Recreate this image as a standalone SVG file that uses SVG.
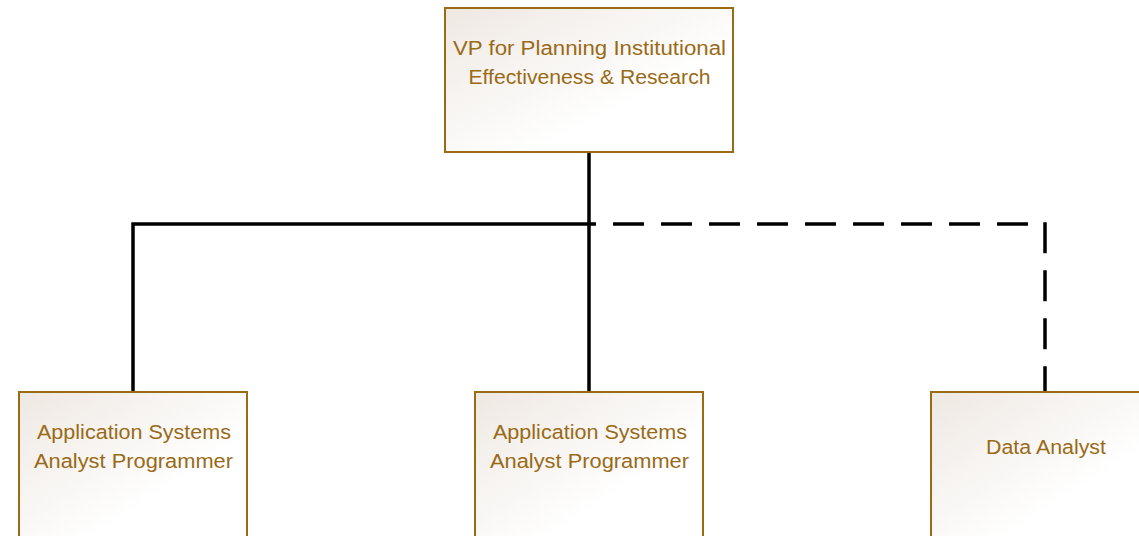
<svg xmlns="http://www.w3.org/2000/svg" width="1139" height="536" viewBox="0 0 1139 536">
<defs>
<linearGradient id="g" x1="0" y1="0" x2="1" y2="1">
<stop offset="0" stop-color="#eee8e2"/>
<stop offset="0.65" stop-color="#ffffff"/>
<stop offset="1" stop-color="#ffffff"/>
</linearGradient>
<style>
.box{fill:url(#g);stroke:#9c6a12;stroke-width:2}
.t{font-family:"Liberation Sans",Arial,sans-serif;font-size:20px;fill:#9a6a16;text-anchor:middle}
.solid{fill:none;stroke:#000;stroke-width:3.5}
.dash{fill:none;stroke:#000;stroke-width:3.5;stroke-dasharray:31 17}
</style>
</defs>
<rect width="1139" height="536" fill="#fff"/>
<g id="connectors">
<path class="solid" d="M589 152 V392"/>
<path class="solid" d="M589 224 H133 V392"/>
<path class="dash" d="M1028 224 H589"/>
<path class="dash" d="M1045 222.3 V392"/>
</g>
<g id="vp">
<rect class="box" x="445" y="8" width="288" height="144"/>
<text class="t" x="589.5" y="55" textLength="273" lengthAdjust="spacingAndGlyphs">VP for Planning Institutional</text>
<text class="t" x="589.5" y="84" textLength="242" lengthAdjust="spacingAndGlyphs">Effectiveness &amp; Research</text>
</g>
<g id="asap1">
<rect class="box" x="19" y="392" width="228" height="150"/>
<text class="t" x="134" y="439" textLength="194" lengthAdjust="spacingAndGlyphs">Application Systems</text>
<text class="t" x="133.5" y="468" textLength="199" lengthAdjust="spacingAndGlyphs">Analyst Programmer</text>
</g>
<g id="asap2">
<rect class="box" x="475" y="392" width="228" height="150"/>
<text class="t" x="590" y="439" textLength="194" lengthAdjust="spacingAndGlyphs">Application Systems</text>
<text class="t" x="589.5" y="468" textLength="199" lengthAdjust="spacingAndGlyphs">Analyst Programmer</text>
</g>
<g id="da">
<rect class="box" x="931" y="392" width="230" height="150"/>
<text class="t" x="1046" y="454" textLength="120" lengthAdjust="spacingAndGlyphs">Data Analyst</text>
</g>
</svg>
